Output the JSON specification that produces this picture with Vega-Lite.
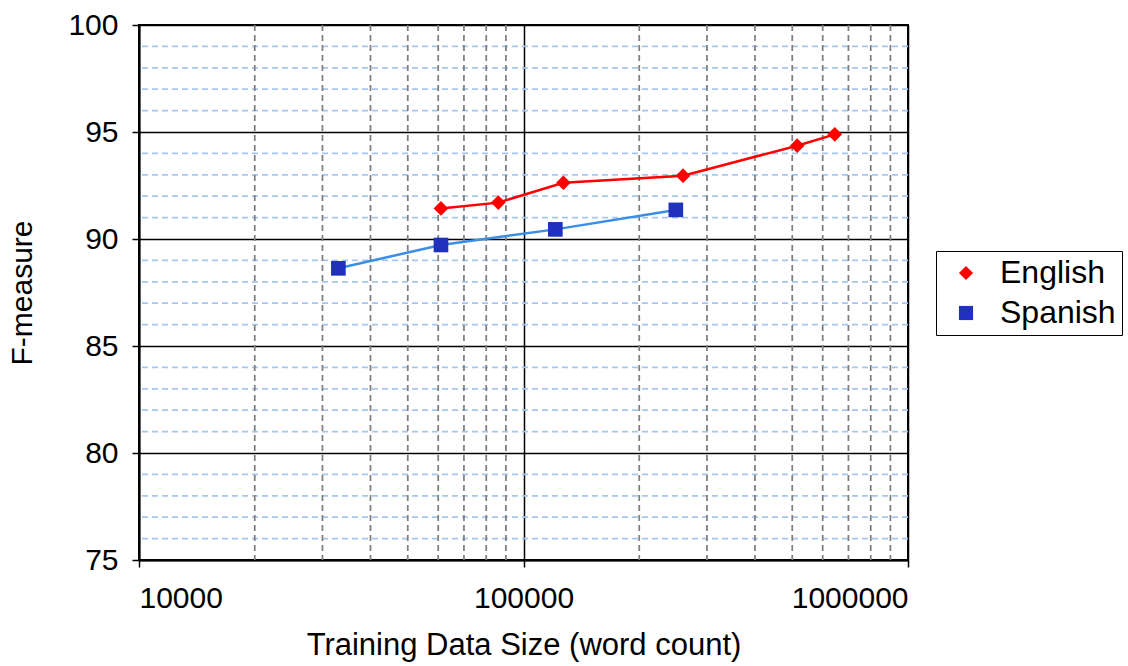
{
  "$schema": "https://vega.github.io/schema/vega-lite/v6.json",
  "width": 769,
  "height": 535,
  "autosize": {"type": "none"},
  "padding": {"left": 139, "top": 25, "right": 220, "bottom": 106},
  "background": "white",
  "config": {
    "font": "Liberation Sans",
    "view": {"stroke": "#000000", "strokeWidth": 2},
    "axis": {
      "domainColor": "#000000", "domainWidth": 2,
      "tickColor": "#000000", "tickWidth": 1.5, "tickSize": 7,
      "gridColor": "#000000", "gridWidth": 1.5, "gridOpacity": 1,
      "labelFont": "Liberation Sans", "labelFontSize": 30, "labelColor": "#000000",
      "titleFont": "Liberation Sans", "titleFontSize": 31, "titleFontWeight": "normal", "titleColor": "#000000"
    }
  },
  "datasets": {
    "series": [
      {"lang": "English", "words": 61000, "f": 91.43},
      {"lang": "English", "words": 86000, "f": 91.70},
      {"lang": "English", "words": 127000, "f": 92.63},
      {"lang": "English", "words": 260000, "f": 92.96},
      {"lang": "English", "words": 515000, "f": 94.36},
      {"lang": "English", "words": 645000, "f": 94.89},
      {"lang": "Spanish", "words": 33000, "f": 88.63},
      {"lang": "Spanish", "words": 61000, "f": 89.72},
      {"lang": "Spanish", "words": 121000, "f": 90.45},
      {"lang": "Spanish", "words": 249000, "f": 91.36}
    ],
    "minorX": [
      {"v": 20000}, {"v": 30000}, {"v": 40000}, {"v": 50000}, {"v": 60000}, {"v": 70000}, {"v": 80000}, {"v": 90000},
      {"v": 200000}, {"v": 300000}, {"v": 400000}, {"v": 500000}, {"v": 600000}, {"v": 700000}, {"v": 800000}, {"v": 900000}
    ],
    "minorY": [
      {"v": 76}, {"v": 77}, {"v": 78}, {"v": 79},
      {"v": 81}, {"v": 82}, {"v": 83}, {"v": 84},
      {"v": 86}, {"v": 87}, {"v": 88}, {"v": 89},
      {"v": 91}, {"v": 92}, {"v": 93}, {"v": 94},
      {"v": 96}, {"v": 97}, {"v": 98}, {"v": 99}
    ]
  },
  "layer": [
    {
      "data": {"name": "minorY"},
      "mark": {"type": "rule", "color": "#A6C6EE", "strokeWidth": 1.75, "strokeDash": [6, 4]},
      "encoding": {
        "y": {"field": "v", "type": "quantitative", "scale": {"domain": [75, 100], "nice": false, "zero": false},
          "axis": {"values": [75, 80, 85, 90, 95, 100], "title": "F-measure", "titleFontSize": 30, "labelPadding": 14, "titlePadding": 30, "grid": true}}
      }
    },
    {
      "data": {"name": "minorX"},
      "mark": {"type": "rule", "color": "#7F7F7F", "strokeWidth": 1.75, "strokeDash": [6, 4]},
      "encoding": {
        "x": {"field": "v", "type": "quantitative", "scale": {"type": "log", "domain": [10000, 1000000], "nice": false},
          "axis": {"values": [10000, 100000, 1000000], "format": "d", "title": "Training Data Size (word count)", "labelPadding": 16, "titlePadding": 17, "grid": true}}
      }
    },
    {
      "data": {"name": "series"},
      "mark": {"type": "line", "strokeWidth": 2.5},
      "encoding": {
        "x": {"field": "words", "type": "quantitative"},
        "y": {"field": "f", "type": "quantitative"},
        "detail": {"field": "lang"},
        "stroke": {"field": "lang", "type": "nominal", "scale": {"range": ["#FF0000", "#3A8EE6"]}, "legend": null}
      }
    },
    {
      "data": {"name": "series"},
      "mark": {"type": "point", "filled": true, "opacity": 1, "size": 215},
      "encoding": {
        "x": {"field": "words", "type": "quantitative"},
        "y": {"field": "f", "type": "quantitative"},
        "fill": {"field": "lang", "type": "nominal", "scale": {"domain": ["English", "Spanish"], "range": ["#FF0000", "#1F31BD"]},
          "legend": {
            "title": null, "orient": "none", "legendX": 797, "legendY": 226,
            "strokeColor": "#000000", "fillColor": "#FFFFFF", "padding": 6,
            "labelFont": "Liberation Sans", "labelFontSize": 32, "labelColor": "#000000",
            "symbolSize": 200, "symbolOffset": 8, "labelOffset": 18, "rowPadding": 8, "symbolOpacity": 1
          }},
        "shape": {"field": "lang", "type": "nominal", "scale": {"domain": ["English", "Spanish"], "range": ["diamond", "square"]}}
      }
    }
  ]
}
